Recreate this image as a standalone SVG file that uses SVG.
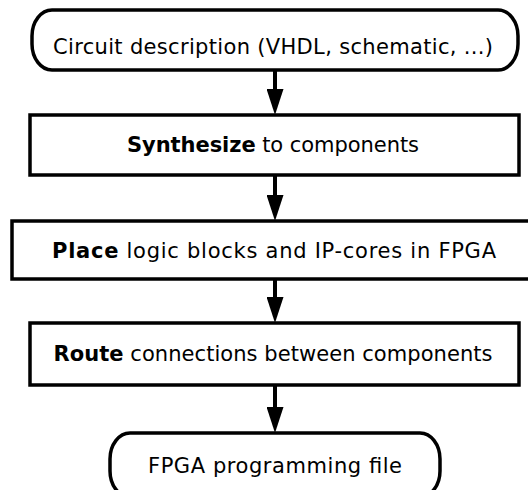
<svg xmlns="http://www.w3.org/2000/svg" width="528" height="490" viewBox="0 0 528 490">
<style>
.shape{fill:#fff;stroke:#000;stroke-width:3.5}
.lbl{font-family:"DejaVu Sans","Liberation Sans",sans-serif;font-size:21px;fill:#000;text-anchor:middle}
.b{font-weight:bold}
.conn{stroke:#000;stroke-width:4;fill:none;marker-end:url(#ah)}
</style>
<defs>
<marker id="ah" markerUnits="userSpaceOnUse" viewBox="0 0 26 17" markerWidth="26" markerHeight="17" refX="11" refY="8.5" orient="auto">
<path d="M0,0 L26,8.5 L0,17 Z" fill="#000"/>
</marker>
</defs>
<rect width="528" height="490" fill="#fff"/>
<g id="connectors">
<line class="conn" x1="275" y1="70" x2="275" y2="100"/>
<line class="conn" x1="275" y1="175" x2="275" y2="206"/>
<line class="conn" x1="275" y1="279" x2="275" y2="308"/>
<line class="conn" x1="275" y1="385" x2="275" y2="418"/>
</g>
<g id="n1">
<rect class="shape" x="32" y="10" width="486" height="60" rx="20" ry="26"/>
<text class="lbl" x="273" y="54" textLength="440" lengthAdjust="spacing">Circuit description (VHDL, schematic, ...)</text>
</g>
<g id="n2">
<rect class="shape" x="30" y="115" width="489" height="60"/>
<text class="lbl" x="273" y="152" textLength="292" lengthAdjust="spacing"><tspan class="b">Synthesize</tspan> to components</text>
</g>
<g id="n3">
<rect class="shape" x="12" y="221" width="526" height="58"/>
<text class="lbl" x="274" y="258" textLength="444" lengthAdjust="spacing"><tspan class="b">Place</tspan> logic blocks and IP-cores in FPGA</text>
</g>
<g id="n4">
<rect class="shape" x="30" y="323" width="489" height="62"/>
<text class="lbl" x="273" y="361" textLength="439" lengthAdjust="spacing"><tspan class="b">Route</tspan> connections between components</text>
</g>
<g id="n5">
<rect class="shape" x="110" y="433" width="330" height="64" rx="20" ry="26"/>
<text class="lbl" x="275" y="473" textLength="254" lengthAdjust="spacing">FPGA programming file</text>
</g>
</svg>
